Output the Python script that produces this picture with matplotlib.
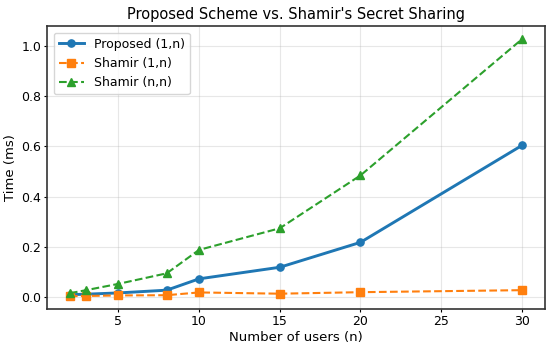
import matplotlib.pyplot as plt

# Datos
users = [2, 3, 5, 8, 10, 15, 20, 30]
proposed = [0.010, 0.012, 0.017, 0.028, 0.073, 0.119, 0.218, 0.603]
shamir_1n = [0.004, 0.005, 0.007, 0.008, 0.019, 0.014, 0.020, 0.028]
shamir_nn = [0.016, 0.028, 0.053, 0.095, 0.188, 0.274, 0.484, 1.025]

fig, ax = plt.subplots(figsize=(5.5, 3.52), dpi=100)

ax.plot(users, proposed, "-o", color="#1f77b4", lw=2.1, ms=5.2, label="Proposed (1,n)")
ax.plot(users, shamir_1n, "--s", color="#ff7f0e", lw=1.5, ms=5.2, label="Shamir (1,n)")
ax.plot(users, shamir_nn, "--^", color="#2ca02c", lw=1.5, ms=5.2, label="Shamir (n,n)")

ax.set_title("Proposed Scheme vs. Shamir's Secret Sharing", fontsize=10.5, pad=5)
ax.set_xlabel("Number of users (n)", fontsize=9.5, labelpad=2)
ax.set_ylabel("Time (ms)", fontsize=9.5, labelpad=3)
ax.tick_params(labelsize=9, length=2.5, pad=2)
ax.grid(True, alpha=0.3)
ax.legend(fontsize=9, loc="upper left")
for s in ax.spines.values():
    s.set_color("#333333")
    s.set_linewidth(1.2)

fig.subplots_adjust(left=0.086, right=0.99, top=0.925, bottom=0.122)
fig.savefig("out.png")
